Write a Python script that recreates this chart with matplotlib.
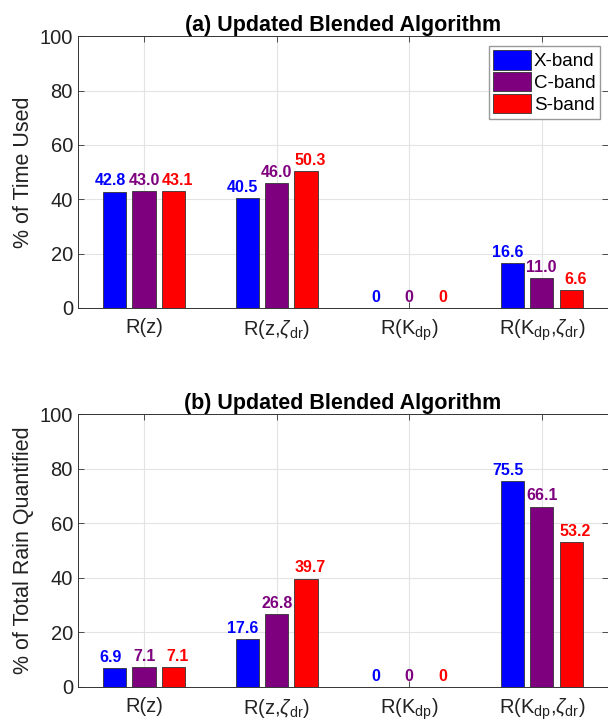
import matplotlib.pyplot as plt
import numpy as np

plt.rcParams['font.family'] = ['Liberation Sans', 'DejaVu Sans']
plt.rcParams['mathtext.fontset'] = 'custom'
plt.rcParams['mathtext.rm'] = 'Liberation Sans'
plt.rcParams['mathtext.it'] = 'Liberation Sans:italic'

categories = ['R(z)', r'R(z,$\zeta_{\rm dr}$)', r'R(K$_{\rm dp}$)', r'R(K$_{\rm dp}$,$\zeta_{\rm dr}$)']
bands = ['X-band', 'C-band', 'S-band']
colors = ['#0000ff', '#7f007f', '#ff0000']

time_x = [42.8, 40.5, 0, 16.6]
time_c = [43.0, 46.0, 0, 11.0]
time_s = [43.1, 50.3, 0, 6.6]

rain_x = [6.9, 17.6, 0, 75.5]
rain_c = [7.1, 26.8, 0, 66.1]
rain_s = [7.1, 39.7, 0, 53.2]

fig = plt.figure(figsize=(6.08, 7.23), dpi=100)
ax1 = fig.add_axes([0.128, 0.574, 0.872, 0.376])
ax2 = fig.add_axes([0.128, 0.050, 0.872, 0.377])

x = np.arange(1, 5)
width = 0.175
offs = [-0.222, 0, 0.222]
lab_offs = [-0.255, 0, 0.255]


def draw(ax, series, title, ylabel, legend):
    for k, vals in enumerate(series):
        ax.bar(x + offs[k], vals, width, color=colors[k], edgecolor='#333333',
               linewidth=0.6, label=bands[k], zorder=3)
        for xi, v in zip(x, vals):
            txt = '0' if v == 0 else '%.1f' % v
            ax.text(xi + lab_offs[k], v + 1.2, txt, color=colors[k], ha='center',
                    va='bottom', fontsize=11.5, fontweight='bold', zorder=4)
    ax.set_xlim(0.5, 4.5)
    ax.set_ylim(0, 100)
    ax.set_yticks([0, 20, 40, 60, 80, 100])
    ax.set_xticks(x)
    ax.set_xticklabels(categories)
    ax.tick_params(direction='in', length=4, labelsize=14.5, top=True, right=True,
                   color='#333333', labelcolor='#222222', width=0.6)
    ax.tick_params(axis='x', pad=7)
    ax.grid(True, color='#e3e3e3', linewidth=0.8, zorder=0)
    for sp in ax.spines.values():
        sp.set_color('#333333')
        sp.set_linewidth(0.7)
    ax.set_title(title, fontsize=15.5, fontweight='bold', pad=4)
    ax.set_ylabel(ylabel, fontsize=15.5, color='#222222', labelpad=4)
    if legend:
        ax.legend(loc='upper right', bbox_to_anchor=(0.985, 0.965), fontsize=13.5,
                  fancybox=False, edgecolor='#999999', framealpha=1,
                  handlelength=2.0, handleheight=1.2, handletextpad=0.15,
                  labelspacing=0.1, borderpad=0.25, borderaxespad=0)


draw(ax1, [time_x, time_c, time_s], '(a) Updated Blended Algorithm', '% of Time Used', True)
draw(ax2, [rain_x, rain_c, rain_s], '(b) Updated Blended Algorithm', '% of Total Rain Quantified', False)

fig.savefig('out.png', dpi=100)
